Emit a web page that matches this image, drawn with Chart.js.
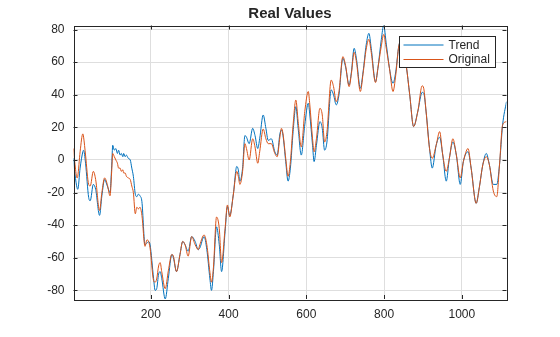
<!DOCTYPE html>
<html>
<head>
<meta charset="utf-8">
<script src="https://cdn.jsdelivr.net/npm/chart.js@4.4.1/dist/chart.umd.min.js"></script>
<style>
  body { margin: 0; background: #fff; }
  #myChart { display: block; }
</style>
</head>
<body>
<canvas id="myChart" width="560" height="337"></canvas>
<script>
var xValues = [1, 5, 10, 12, 18, 25, 27, 32, 40, 44, 52, 58, 68, 74, 81, 88, 95, 99, 102, 106,
  110, 114, 117, 121, 124, 128, 130, 134, 137, 142, 147, 151, 155, 160, 164, 168, 172, 177, 185, 190,
  194, 198, 207, 211, 215, 220, 224, 228, 237, 245, 254, 258, 266, 275, 282, 288, 296, 305, 314, 322,
  326, 337, 344, 352, 356, 361, 369, 376, 382, 391, 397, 403, 412, 421, 425, 429, 436, 442, 446, 453,
  462, 468, 475, 480, 489, 496, 502, 510, 519, 525, 532, 536, 540, 547, 553, 559, 566, 573, 579, 587,
  596, 605, 609, 616, 620, 626, 635, 641, 647, 653, 664, 670, 677, 684, 694, 701, 710, 716, 723, 729,
  739, 746, 754, 761, 767, 778, 784, 793, 799, 806, 814, 823, 830, 838, 845, 857, 866, 876, 887, 898,
  902, 908, 917, 924, 934, 943, 951, 960, 968, 977, 986, 996, 1004, 1016, 1024, 1037, 1045, 1054, 1063, 1071,
  1081, 1090, 1097, 1105, 1115];

var trendValues = [1, -9, -17, -18, -5, 5, 6, -2, -23, -25, -15, -18, -34, -22, -12, -16, -20, -5, 9, 6,
  7, 4, 6, 3, 4, 2, 4, 2, 3, 1, 0, -5, -10, -21, -22.5, -21, -22, -25.6, -52, -51,
  -50, -52, -72.6, -80, -79, -70, -68.5, -72.6, -85.3, -72.6, -58, -60, -68.5, -58, -50, -52, -56, -47, -50, -55,
  -54, -47, -55, -73, -80, -68.5, -41, -52, -68.5, -44, -28.6, -34, -21.5, -4, -6, -13, -5, 15, 14, 10,
  19.4, 15, 7, 13, 27.6, 19.4, 12, 13, 5, 3, 16, 18.4, 15, -1, -13, -5, 17.4, 32.7, 19.4, 3,
  21.5, 34.8, 27.6, 9, -1, 9, 23.5, 19.4, 6, 11, 43, 40, 33.8, 40, 62.4, 57, 46, 54, 68.5, 62,
  44, 54, 70.6, 77.7, 68.5, 48, 56, 74, 82.5, 70.6, 56, 47, 54, 70, 73, 58, 40, 20.5, 30, 41.5,
  41, 30, 7, -5, 9, 14, 3, -13, 1, 11, 3, -15, -1, 5, -5, -26.6, -17, -3, 4, -3,
  -15, -15, -3, 21.5, 35.8];

var originalValues = [7, -3, -11, -10, 5, 16, 14, 3, -15, -16, -7, -12, -31, -20, -11, -15, -22, -8, 4, 2,
  0, -2, -5, -5, -7, -6, -8, -8, -10, -11, -12, -16, -20, -33, -29, -30, -29, -34, -53, -49,
  -50, -54, -74, -75, -73, -65, -63, -68.5, -79, -68, -58, -59, -68.5, -58, -50, -52, -59, -47, -52, -55,
  -52, -46, -52, -69, -75, -66, -35, -42, -63, -42, -27.6, -35, -21.5, -7, -10, -15, -7, 10, 7, 0,
  13, 8, -2, 5, 19, 13, 10, 10, 4, 2, 14, 19.4, 16, 1, -10, -1, 21.5, 36.8, 23.5, 8,
  29.7, 42, 33.8, 13, 5, 13, 31.7, 27.6, 11, 17, 49, 45, 35.8, 42, 63.4, 58, 45, 53, 66, 60,
  42, 53, 68, 74, 66, 47.5, 56, 70, 77, 68, 56, 42, 52, 70, 73, 58, 40, 20.5, 30, 45.5,
  44, 30, 7, 1, 9, 17.4, 3, -7, 1, 13, 3, -11, -1, 7, -5, -26.6, -17, -3, 2, -3,
  -19, -22.5, -3, 21.5, 23.5];

var xTicks = [200, 400, 600, 800, 1000];
var yTicks = [-80, -60, -40, -20, 0, 20, 40, 60, 80];
var seriesNames = ["Trend", "Original"];
var seriesColors = ["#0072BD", "#D95319"];
var chartTitle = "Real Values";

function points(ys) {
  return xValues.map(function(x, i) { return { x: x, y: ys[i] }; });
}

// axes box, inner tick marks, title and a matlab style legend
var matlabLook = {
  id: "matlabLook",
  afterDatasetsDraw: function(chart) {
    var ctx = chart.ctx;
    var a = chart.chartArea;
    var sx = chart.scales.x, sy = chart.scales.y;
    ctx.save();
    ctx.strokeStyle = "#262626";
    ctx.lineWidth = 1;
    ctx.beginPath();
    xTicks.forEach(function(v) {
      var px = Math.round(sx.getPixelForValue(v)) + 0.5;
      ctx.moveTo(px, a.bottom); ctx.lineTo(px, a.bottom - 4);
      ctx.moveTo(px, a.top); ctx.lineTo(px, a.top + 4);
    });
    yTicks.forEach(function(v) {
      var py = Math.round(sy.getPixelForValue(v)) + 0.5;
      ctx.moveTo(a.left, py); ctx.lineTo(a.left + 4, py);
      ctx.moveTo(a.right, py); ctx.lineTo(a.right - 4, py);
    });
    ctx.stroke();
    ctx.strokeRect(Math.round(a.left) + 0.5, Math.round(a.top) + 0.5,
      Math.round(a.right - a.left), Math.round(a.bottom - a.top));

    // title
    ctx.fillStyle = "#262626";
    ctx.font = "bold 15px 'Liberation Sans', Arial, sans-serif";
    ctx.textAlign = "center";
    ctx.textBaseline = "middle";
    ctx.fillText(chartTitle, (a.left + a.right) / 2, 14);

    // legend
    var lx = 399.5, ly = 36.5, lw = 96, lh = 31;
    ctx.fillStyle = "#fff";
    ctx.fillRect(lx, ly, lw, lh);
    ctx.strokeStyle = "#262626";
    ctx.strokeRect(lx, ly, lw, lh);
    ctx.font = "12px 'Liberation Sans', Arial, sans-serif";
    ctx.textAlign = "left";
    seriesNames.forEach(function(name, i) {
      var yy = ly + 8.5 + i * 14.5;
      ctx.strokeStyle = seriesColors[i];
      ctx.beginPath();
      ctx.moveTo(lx + 4, yy); ctx.lineTo(lx + 44, yy);
      ctx.stroke();
      ctx.fillStyle = "#262626";
      ctx.fillText(name, lx + 49, yy + 0.5);
    });
    ctx.restore();
  }
};

new Chart("myChart", {
  type: "line",
  data: {
    datasets: [{
      label: seriesNames[0],
      data: points(trendValues),
      borderColor: seriesColors[0],
      order: 1
    }, {
      label: seriesNames[1],
      data: points(originalValues),
      borderColor: seriesColors[1],
      order: 0
    }]
  },
  options: {
    responsive: false,
    animation: false,
    devicePixelRatio: 1,
    layout: { padding: { top: 25.5, right: 53.5, left: 0, bottom: 0 } },
    elements: {
      point: { radius: 0 },
      line: { borderWidth: 1, cubicInterpolationMode: "monotone" }
    },
    plugins: {
      legend: { display: false },
      title: { display: false },
      tooltip: { enabled: false }
    },
    scales: {
      x: {
        type: "linear",
        min: 1,
        max: 1115,
        afterBuildTicks: function(s) { s.ticks = xTicks.map(function(v) { return { value: v }; }); },
        afterFit: function(s) { s.height = 38; },
        grid: { color: "#dedede", drawTicks: false },
        border: { display: false },
        ticks: {
          color: "#262626",
          padding: 8,
          maxRotation: 0,
          callback: function(v) { return String(v); },
          font: { family: "'Liberation Sans', Arial, sans-serif", size: 12 }
        }
      },
      y: {
        min: -85.3,
        max: 82.5,
        afterBuildTicks: function(s) { s.ticks = yTicks.map(function(v) { return { value: v }; }); },
        afterFit: function(s) { s.width = 73.5; },
        grid: { color: "#dedede", drawTicks: false },
        border: { display: false },
        ticks: {
          color: "#262626",
          padding: 9,
          callback: function(v) { return String(v); },
          font: { family: "'Liberation Sans', Arial, sans-serif", size: 12 }
        }
      }
    }
  },
  plugins: [matlabLook]
});
</script>
</body>
</html>
